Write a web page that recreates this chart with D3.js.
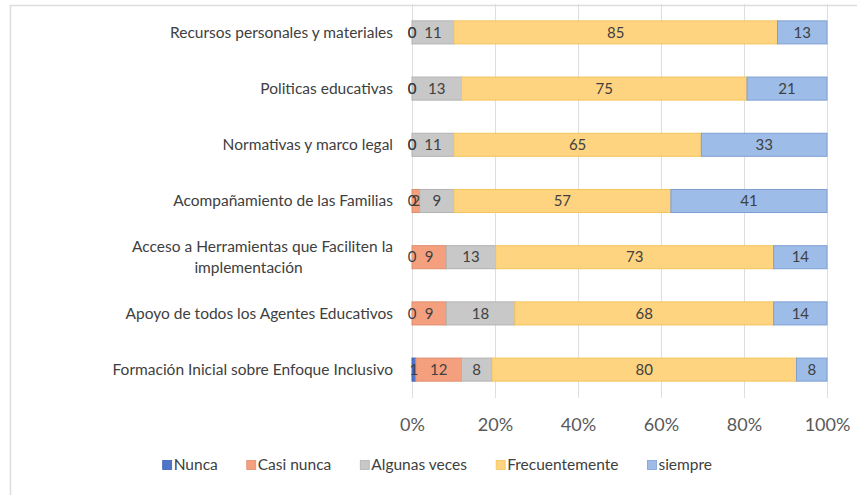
<!DOCTYPE html>
<html>
<head>
<meta charset="utf-8">
<script src="https://cdn.jsdelivr.net/npm/d3@7"></script>
<style>
  body { margin: 0; background: #fff; }
  svg { font-family: Lato, "Open Sans", sans-serif; }
</style>
</head>
<body>
<svg id="chart" width="857" height="495"></svg>
<script>
// categories, top to bottom
var categories = [
    'Recursos personales y materiales',
    'Politicas educativas',
    'Normativas y marco legal',
    'Acompañamiento de las Familias',
    'Acceso a Herramientas que Faciliten  la|implementación',
    'Apoyo de todos los Agentes Educativos',
    'Formación Inicial sobre Enfoque Inclusivo'
]

var seriesNames = ['Nunca', 'Casi nunca', 'Algunas veces', 'Frecuentemente', 'siempre']

var nunca = [0, 0, 0, 0, 0, 0, 1]
var casiNunca = [0, 0, 0, 2, 9, 9, 12]
var algunasVeces = [11, 13, 11, 9, 13, 18, 8]
var frecuentemente = [85, 75, 65, 57, 73, 68, 80]
var siempre = [13, 21, 33, 41, 14, 14, 8]

var tickLabels = ['0%', '20%', '40%', '60%', '80%', '100%']

var fills = ['#4f74c8', '#f4a07f', '#c8c8c8', '#ffd480', '#9dbde8']
var strokes = ['#3d62b3', '#e08c6c', '#b2b2b2', '#f2c45c', '#7f9fd2']

var svg = d3.select('#chart');
var margin = { left: 412, right: 30, top: 4, bottom: 97 };
var width = 857, height = 495;
var catFont = '15.5px', valFont = '15px';

// frame (only top and left edge visible in the crop)
svg.append('path')
    .attr('d', 'M10.5,495 L10.5,5.5 L857,5.5')
    .attr('fill', 'none')
    .attr('stroke', '#dcdcdc')
    .attr('stroke-width', 1.5);

var allSeries = [nunca, casiNunca, algunasVeces, frecuentemente, siempre];

var rows = categories.map(function (c, i) {
    var row = { cat: c };
    seriesNames.forEach(function (s, j) { row[s] = allSeries[j][i]; });
    return row;
});

var stacked = d3.stack()
    .keys(seriesNames)
    .offset(d3.stackOffsetExpand)(rows);

var x = d3.scaleLinear()
    .domain([0, 1])
    .range([margin.left, width - margin.right]);

var y = d3.scaleBand()
    .domain(categories)
    .range([margin.top, height - margin.bottom])
    .paddingInner(0.59)
    .paddingOuter(0.3);

// gridlines
svg.append('g')
    .selectAll('line')
    .data(x.ticks(5))
    .enter()
    .append('line')
    .attr('x1', function (d) { return Math.round(x(d)) + 0.5; })
    .attr('x2', function (d) { return Math.round(x(d)) + 0.5; })
    .attr('y1', margin.top)
    .attr('y2', height - margin.bottom)
    .attr('stroke', '#dedede')
    .attr('stroke-width', 1);

// x axis labels
var xAxis = d3.axisBottom(x)
    .ticks(5)
    .tickSize(0)
    .tickFormat(function (d, i) { return tickLabels[i]; });

var gx = svg.append('g')
    .attr('transform', 'translate(0,' + (height - margin.bottom + 17) + ')')
    .call(xAxis);
gx.select('.domain').remove();
gx.selectAll('text')
    .attr('fill', '#595959')
    .style('font-size', '18px')
    .style('font-family', 'Lato, sans-serif');

// bars
var layers = svg.selectAll('.layer')
    .data(stacked)
    .enter()
    .append('g')
    .attr('class', 'layer')
    .attr('fill', function (d, i) { return fills[i]; })
    .attr('stroke', function (d, i) { return strokes[i]; });

layers.selectAll('rect')
    .data(function (d) { return d; })
    .enter()
    .append('rect')
    .attr('x', function (d) { return x(d[0]); })
    .attr('y', function (d) { return y(d.data.cat); })
    .attr('width', function (d) { return x(d[1]) - x(d[0]); })
    .attr('height', y.bandwidth())
    .attr('stroke-width', 1);

// data labels
stacked.forEach(function (layer, i) {
    svg.append('g')
        .selectAll('text')
        .data(layer)
        .enter()
        .append('text')
        .attr('x', function (d) { return (x(d[0]) + x(d[1])) / 2; })
        .attr('y', function (d) { return y(d.data.cat) + y.bandwidth() / 2; })
        .attr('dy', '0.35em')
        .attr('text-anchor', 'middle')
        .style('font-size', valFont)
        .attr('fill', '#404040')
        .text(function (d) { return d.data[seriesNames[i]]; });
});

// category labels
var labelRight = margin.left - 19;
categories.forEach(function (c) {
    var lines = c.split('|');
    var cy = y(c) + y.bandwidth() / 2;
    if (lines.length == 1) {
        svg.append('text')
            .attr('x', labelRight)
            .attr('y', cy)
            .attr('dy', '0.35em')
            .attr('text-anchor', 'end')
            .style('font-size', catFont)
            .attr('fill', '#404040')
            .text(c);
    } else {
        var first = svg.append('text')
            .attr('x', labelRight)
            .attr('y', cy - 10.5)
            .attr('dy', '0.35em')
            .attr('text-anchor', 'end')
            .style('font-size', catFont)
            .attr('fill', '#404040')
            .text(lines[0]);
        var w = first.node().getComputedTextLength();
        svg.append('text')
            .attr('x', labelRight - w / 2 - 14)
            .attr('y', cy + 10.5)
            .attr('dy', '0.35em')
            .attr('text-anchor', 'middle')
            .style('font-size', catFont)
            .attr('fill', '#404040')
            .text(lines[1]);
    }
});

// legend
var legend = svg.append('g').attr('transform', 'translate(0,465)');
var items = legend.selectAll('g')
    .data(seriesNames)
    .enter()
    .append('g');

items.append('rect')
    .attr('width', 9)
    .attr('height', 9)
    .attr('y', -4.5)
    .attr('fill', function (d, i) { return fills[i]; })
    .attr('stroke', function (d, i) { return strokes[i]; })
    .attr('stroke-width', 0.8);

items.append('text')
    .attr('x', 11)
    .attr('dy', '0.35em')
    .style('font-size', '15.5px')
    .attr('fill', '#404040')
    .text(function (d) { return d; });

var gap = 29;
var pos = 0;
var offsets = [];
items.each(function () {
    var w = this.getBBox().width;
    offsets.push(pos);
    pos += w + gap;
});
var total = pos - gap;
var start = 712 - total;
items.attr('transform', function (d, i) { return 'translate(' + (start + offsets[i]) + ',0)'; });
</script>
</body>
</html>
